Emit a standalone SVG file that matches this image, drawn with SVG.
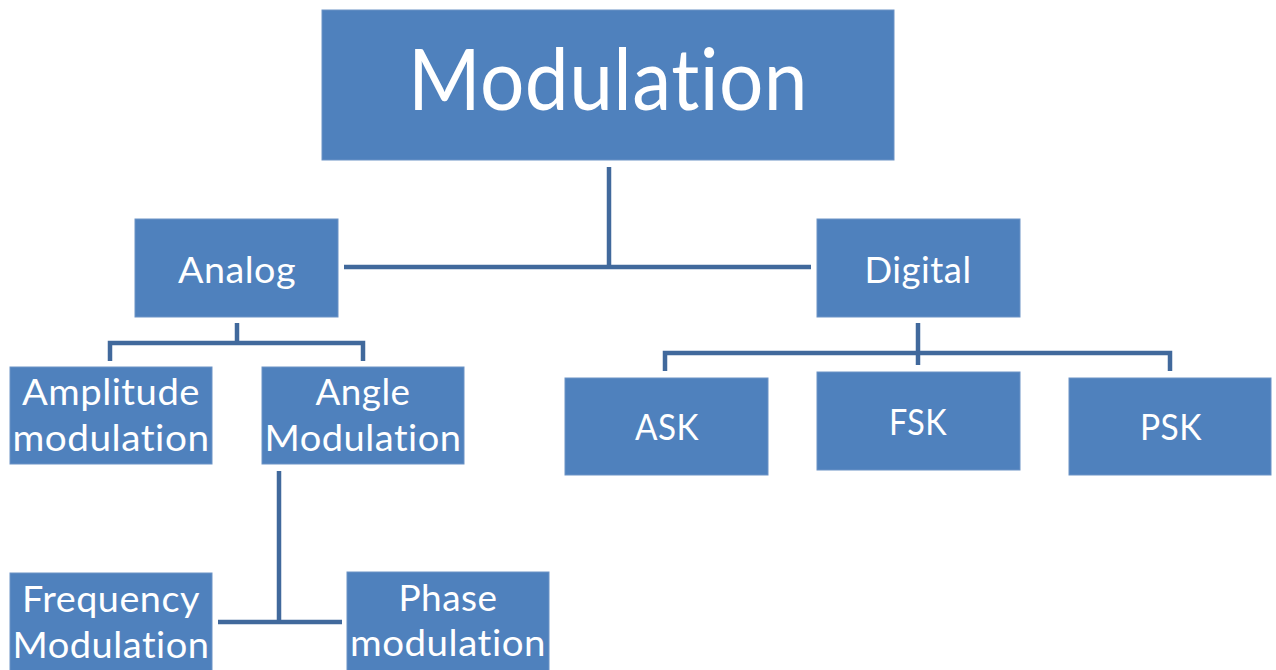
<svg xmlns="http://www.w3.org/2000/svg" width="1276" height="670" viewBox="0 0 1276 670">
<style>
.box{fill:#4F81BD;stroke:#6C93C6;stroke-width:1}
.t{fill:#FFFFFF;font-family:Lato,"Open Sans","Liberation Sans",sans-serif;font-size:37px;text-anchor:middle;font-variant-ligatures:none;font-feature-settings:"liga" 0,"clig" 0,"dlig" 0,"calt" 0;letter-spacing:0.5px}
.big{font-size:85px}
.c{fill:none;stroke:#41699C;stroke-width:4.5;stroke-linejoin:miter}
</style>
<rect width="1276" height="670" fill="#FFFFFF"/>
<g id="connectors">
<path class="c" d="M609,167 V267"/>
<path class="c" d="M344,267 H811"/>
<path class="c" d="M237,323 V343"/>
<path class="c" d="M110,361 V343 H363 V361"/>
<path class="c" d="M918,323 V365"/>
<path class="c" d="M665,371 V353 H1170 V371"/>
<path class="c" d="M279,471 V622"/>
<path class="c" d="M218,622 H342"/>
</g>
<g id="modulation">
<rect class="box" x="322" y="10" width="572" height="150"/>
<text class="t big" x="608" y="110" textLength="400" lengthAdjust="spacingAndGlyphs">Modulation</text>
</g>
<g id="analog">
<rect class="box" x="135" y="219" width="203" height="98"/>
<text class="t" x="237" y="283" textLength="118" lengthAdjust="spacingAndGlyphs">Analog</text>
</g>
<g id="digital">
<rect class="box" x="817" y="219" width="203" height="98"/>
<text class="t" x="918" y="283" textLength="107" lengthAdjust="spacingAndGlyphs">Digital</text>
</g>
<g id="amplitude">
<rect class="box" x="10" y="367" width="202" height="97"/>
<text class="t" x="111" y="405" textLength="178" lengthAdjust="spacingAndGlyphs">Amplitude</text>
<text class="t" x="111" y="451" textLength="197" lengthAdjust="spacingAndGlyphs">modulation</text>
</g>
<g id="angle">
<rect class="box" x="262" y="367" width="202" height="97"/>
<text class="t" x="363" y="405" textLength="95" lengthAdjust="spacingAndGlyphs">Angle</text>
<text class="t" x="363" y="451" textLength="197" lengthAdjust="spacingAndGlyphs">Modulation</text>
</g>
<g id="frequency">
<rect class="box" x="10" y="573" width="202" height="98"/>
<text class="t" x="111" y="612" textLength="178" lengthAdjust="spacingAndGlyphs">Frequency</text>
<text class="t" x="111" y="658" textLength="197" lengthAdjust="spacingAndGlyphs">Modulation</text>
</g>
<g id="phase">
<rect class="box" x="347" y="572" width="202" height="99"/>
<text class="t" x="448" y="611" textLength="99" lengthAdjust="spacingAndGlyphs">Phase</text>
<text class="t" x="448" y="656" textLength="196" lengthAdjust="spacingAndGlyphs">modulation</text>
</g>
<g id="ask">
<rect class="box" x="565" y="378" width="203" height="97"/>
<text class="t" x="667" y="440" textLength="64" lengthAdjust="spacingAndGlyphs">ASK</text>
</g>
<g id="fsk">
<rect class="box" x="817" y="372" width="203" height="98"/>
<text class="t" x="918" y="435" textLength="58" lengthAdjust="spacingAndGlyphs">FSK</text>
</g>
<g id="psk">
<rect class="box" x="1069" y="378" width="202" height="97"/>
<text class="t" x="1171" y="440" textLength="62" lengthAdjust="spacingAndGlyphs">PSK</text>
</g>
</svg>
